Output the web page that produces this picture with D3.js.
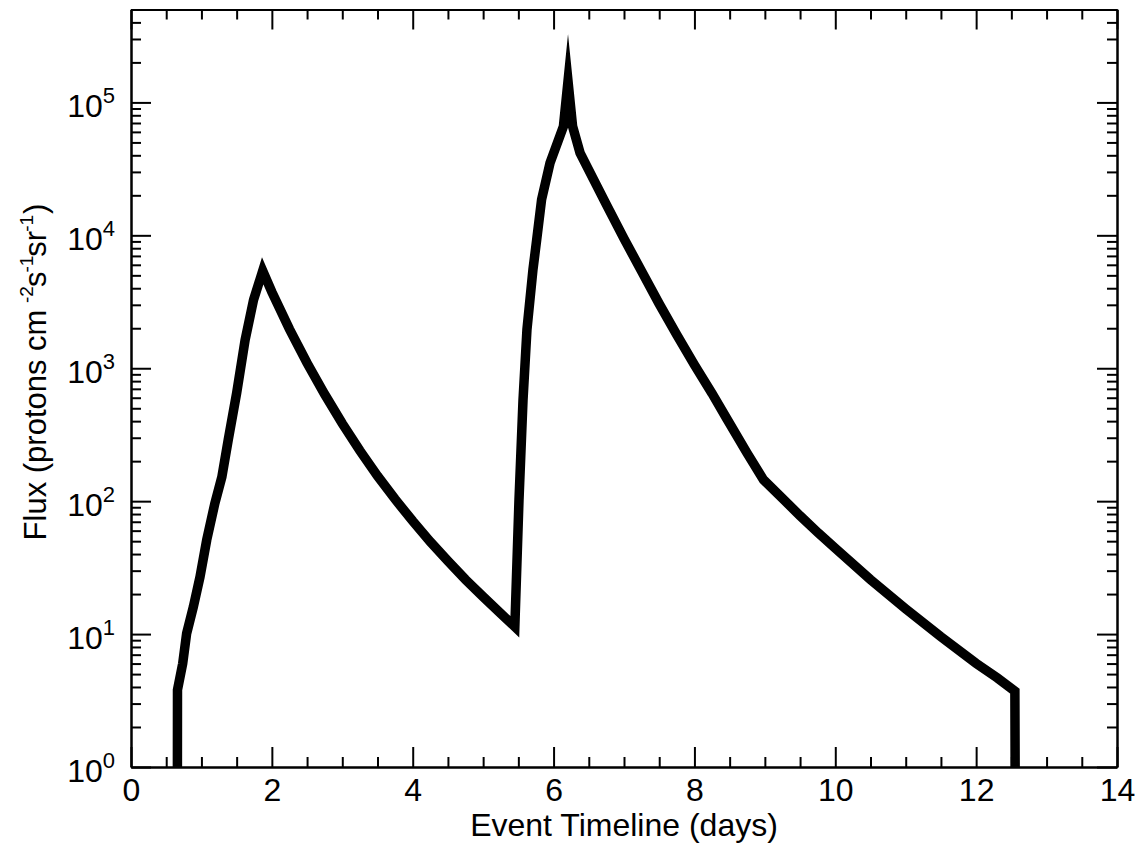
<!DOCTYPE html>
<html>
<head>
<meta charset="utf-8">
<script src="https://cdn.jsdelivr.net/npm/d3@7"></script>
<style>
  html, body { margin: 0; padding: 0; background: #fff; }
  svg { display: block; font-family: "Liberation Sans", Arial, Helvetica, sans-serif; }
</style>
</head>
<body>
<svg id="chart" width="1143" height="846"></svg>
<script>
// ---- data ----
const days = [
  0.657, 0.660, 0.734, 0.79, 0.885, 0.98, 1.075, 1.19, 1.29, 1.38, 1.50, 1.62, 1.74, 1.87,
  2.0, 2.25, 2.5, 2.75, 3.0, 3.25, 3.5, 3.75, 4.0, 4.25, 4.5, 4.75, 5.0, 5.25, 5.45,
  5.509, 5.566, 5.622, 5.707, 5.76, 5.83, 5.95, 6.14, 6.205, 6.27, 6.376,
  6.5, 6.75, 7.0, 7.25, 7.5, 7.75, 8.0, 8.25, 8.46, 8.75, 8.98,
  9.25, 9.5, 9.76, 10.0, 10.5, 11.0, 11.5, 12.0, 12.3, 12.55, 12.56
];
const flux = [
  0.1, 3.8, 6.0, 10.1, 16, 27, 51, 96, 152, 288, 650, 1630, 3270, 5400,
  3750, 1970, 1094, 637, 384, 240, 155, 103.5, 70.8, 49.5, 35.5, 25.7, 19.1, 14.3, 11.35,
  102, 575, 1950, 5500, 9230, 18600, 35100, 66100, 144500, 66100, 41700,
  30900, 17000, 9440, 5370, 3050, 1780, 1060, 646, 417, 229, 145,
  105, 77.6, 57.5, 44.2, 25.7, 15.5, 9.55, 6.03, 4.68, 3.72, 0.1
];
const xMajorTicks = [0, 2, 4, 6, 8, 10, 12, 14];
const xMinorTicks = [0.5, 1, 1.5, 2.5, 3, 3.5, 4.5, 5, 5.5, 6.5, 7, 7.5, 8.5, 9, 9.5, 10.5, 11, 11.5, 12.5, 13, 13.5];
const yMajorTicks = [1, 10, 100, 1000, 10000, 100000];
const yTickExponents = ["0", "1", "2", "3", "4", "5"];
const yMinorTicks = [];
[1, 10, 100, 1000, 10000, 100000].forEach(b => [2,3,4,5,6,7,8,9].forEach(m => { if (b*m <= 5e5) yMinorTicks.push(b*m); }));
const xTitle = "Event Timeline (days)";

// ---- layout ----
const W = 1143, H = 846;
const L = 131, R = 1117, T = 9.5, B = 767;
const svg = d3.select("#chart");
const x = d3.scaleLinear().domain([0, 14]).range([L, R]);
const y = d3.scaleLog().domain([1, 5e5]).range([B, T]);

svg.append("defs").append("clipPath").attr("id", "clip")
  .append("rect").attr("x", L).attr("y", T).attr("width", R - L).attr("height", B - T);

// data line
const pts = days.map((d, i) => [d, flux[i]]);
svg.append("path")
  .attr("clip-path", "url(#clip)")
  .attr("d", d3.line().x(d => x(d[0])).y(d => y(d[1]))(pts))
  .attr("fill", "none").attr("stroke", "#000").attr("stroke-width", 9.5)
  .attr("stroke-linejoin", "miter").attr("stroke-miterlimit", 20);

function styleAxis(g) {
  g.selectAll("path.domain").attr("stroke", "#000").attr("stroke-width", 2);
  g.selectAll(".tick line").attr("stroke", "#000").attr("stroke-width", 2);
}

// bottom axis
const gB = svg.append("g").attr("transform", `translate(0,${B})`)
  .call(d3.axisBottom(x).tickValues(xMajorTicks).tickSize(-20).tickSizeOuter(0).tickPadding(11).tickFormat(d3.format("d")));
gB.selectAll("text").attr("font-size", 32).attr("fill", "#000").attr("font-family", "Liberation Sans, Arial, sans-serif");
styleAxis(gB);
const gBm = svg.append("g").attr("transform", `translate(0,${B})`)
  .call(d3.axisBottom(x).tickValues(xMinorTicks).tickSize(-10).tickSizeOuter(0).tickFormat(""));
styleAxis(gBm);

// top axis
const gT = svg.append("g").attr("transform", `translate(0,${T})`)
  .call(d3.axisTop(x).tickValues(xMajorTicks).tickSize(-20).tickSizeOuter(0).tickFormat(""));
styleAxis(gT);
const gTm = svg.append("g").attr("transform", `translate(0,${T})`)
  .call(d3.axisTop(x).tickValues(xMinorTicks).tickSize(-10).tickSizeOuter(0).tickFormat(""));
styleAxis(gTm);

// left axis
const gL = svg.append("g").attr("transform", `translate(${L},0)`)
  .call(d3.axisLeft(y).tickValues(yMajorTicks).tickSize(-20).tickSizeOuter(0).tickPadding(16).tickFormat(() => ""));
styleAxis(gL);
gL.selectAll(".tick text").each(function(d, i) {
  const t = d3.select(this);
  t.attr("font-size", 32).attr("fill", "#000").attr("dy", "14").text(null);
  t.append("tspan").text("10");
  t.append("tspan").attr("font-size", 22).attr("dy", "-14").text(yTickExponents[i]);
});
const gLm = svg.append("g").attr("transform", `translate(${L},0)`)
  .call(d3.axisLeft(y).tickValues(yMinorTicks).tickSize(-10).tickSizeOuter(0).tickFormat(""));
styleAxis(gLm);

// right axis
const gR = svg.append("g").attr("transform", `translate(${R},0)`)
  .call(d3.axisRight(y).tickValues(yMajorTicks).tickSize(-20).tickSizeOuter(0).tickFormat(""));
styleAxis(gR);
const gRm = svg.append("g").attr("transform", `translate(${R},0)`)
  .call(d3.axisRight(y).tickValues(yMinorTicks).tickSize(-10).tickSizeOuter(0).tickFormat(""));
styleAxis(gRm);

// x title
svg.append("text").attr("x", (L + R) / 2).attr("y", 836)
  .attr("text-anchor", "middle").attr("font-size", 32).attr("fill", "#000").text(xTitle);

// y title
const yt = svg.append("text").attr("transform", `translate(46,372) rotate(-90)`)
  .attr("text-anchor", "middle").attr("font-size", 31).attr("fill", "#000");
yt.append("tspan").text("Flux (protons cm ");
yt.append("tspan").attr("font-size", 19).attr("dy", -13).attr("dx", -2).text("-2");
yt.append("tspan").attr("dy", 13).attr("dx", -1).text("s");
yt.append("tspan").attr("font-size", 19).attr("dy", -13).attr("dx", -1).text("-1");
yt.append("tspan").attr("dy", 13).attr("dx", -1).text("sr");
yt.append("tspan").attr("font-size", 19).attr("dy", -13).attr("dx", -1).text("-1");
yt.append("tspan").attr("dy", 13).attr("dx", 1).text(")");
</script>
</body>
</html>
